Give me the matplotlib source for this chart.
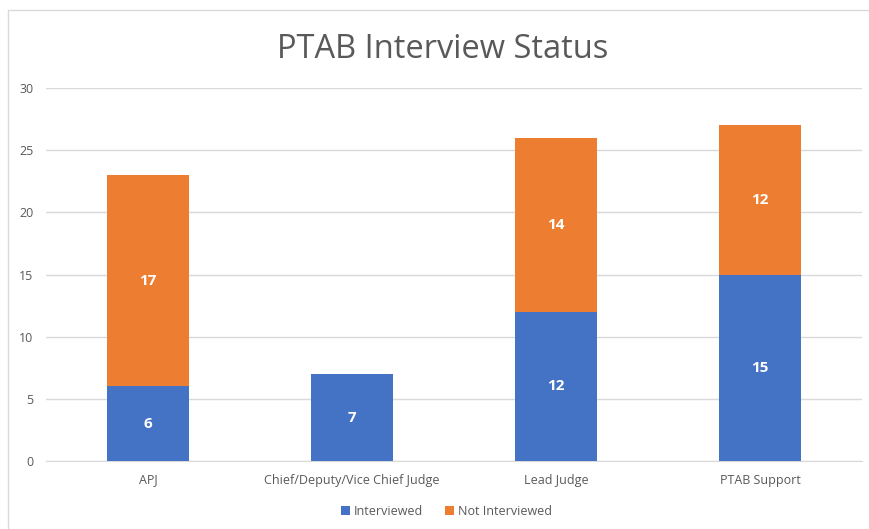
import matplotlib.pyplot as plt
import numpy as np
from matplotlib.patches import Rectangle

categories = ["APJ", "Chief/Deputy/Vice Chief Judge", "Lead Judge", "PTAB Support"]
interviewed = [6, 7, 12, 15]
not_interviewed = [17, 0, 14, 12]

blue = "#4472C4"
orange = "#ED7D31"

plt.rcParams['font.family'] = ['Open Sans', 'DejaVu Sans']

fig = plt.figure(figsize=(8.7, 5.29), dpi=100)
ax = fig.add_axes([0.0529, 0.1285, 0.9379, 0.7051])

x = np.arange(len(categories))
b1 = ax.bar(x, interviewed, width=0.4, color=blue, label="Interviewed", zorder=3)
b2 = ax.bar(x, not_interviewed, width=0.4, bottom=interviewed, color=orange,
            label="Not Interviewed", zorder=3)

for bars, vals, base in [(b1, interviewed, [0] * 4), (b2, not_interviewed, interviewed)]:
  for rect, v, b in zip(bars, vals, base):
    if v > 0:
      ax.text(rect.get_x() + rect.get_width() / 2, b + v / 2, str(v),
              ha="center", va="center", color="white", fontsize=11, fontweight="bold")

ax.set_xlim(-0.5, len(categories) - 0.5)
ax.set_ylim(0, 30)
ax.set_yticks(range(0, 31, 5))
ax.set_xticks(x)
ax.set_xticklabels(categories)
ax.yaxis.grid(True, color="#D9D9D9", linewidth=1, zorder=0)
for s in ["top", "right", "left"]:
  ax.spines[s].set_visible(False)
ax.spines["bottom"].set_color("#D9D9D9")
ax.tick_params(axis="both", length=0, colors="#595959", labelsize=9)
ax.tick_params(axis="y", pad=9)
ax.tick_params(axis="x", pad=9)

fig.suptitle("PTAB Interview Status", x=0.509, y=0.937, fontsize=23.5, color="#595959")

fig.legend(loc="lower center", bbox_to_anchor=(0.513, 0.0), ncol=2, frameon=False,
           fontsize=9, labelcolor="#595959", handlelength=0.7, handleheight=0.7,
           handletextpad=0.3, columnspacing=1.8)

fig.patches.append(Rectangle((8 / 870, -0.01), 1.0, 1 - 10 / 529 + 0.01,
                             transform=fig.transFigure, fill=False,
                             edgecolor="#D9D9D9", linewidth=1))

fig.savefig("out.png", dpi=100)
